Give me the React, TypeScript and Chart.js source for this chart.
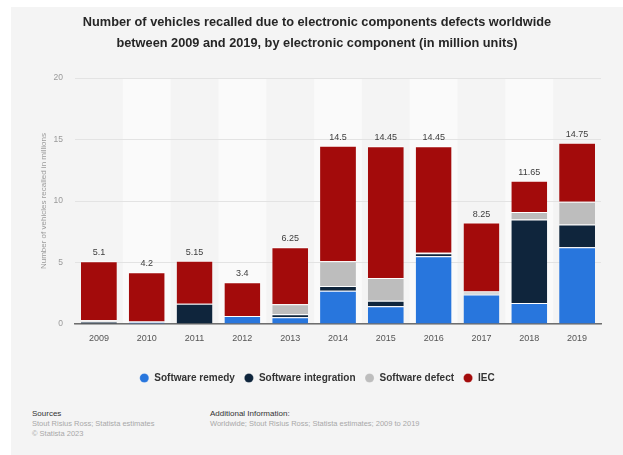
import React, { useEffect, useRef } from 'react';
import { Chart, registerables } from 'chart.js';

Chart.register(...registerables);

const years = ['2009', '2010', '2011', '2012', '2013', '2014', '2015', '2016', '2017', '2018', '2019'];
const softwareRemedy = [0, 0.15, 0, 0.65, 0.55, 2.7, 1.45, 5.5, 2.4, 1.7, 6.25];
const softwareIntegration = [0.2, 0, 1.65, 0, 0.25, 0.4, 0.45, 0.25, 0.05, 6.8, 1.85];
const softwareDefect = [0.1, 0.05, 0, 0, 0.8, 2.0, 1.85, 0.05, 0.2, 0.6, 1.85];
const iec = [4.8, 4.0, 3.5, 2.75, 4.65, 9.4, 10.7, 8.65, 5.6, 2.55, 4.8];
const totals = [5.1, 4.2, 5.15, 3.4, 6.25, 14.5, 14.45, 14.45, 8.25, 11.65, 14.75];
const yTicks = [0, 5, 10, 15, 20];

const FONT = '"Liberation Sans", Arial, Helvetica, sans-serif';

const bandsPlugin = {
  id: 'bands',
  beforeDraw(chart: any) {
    const { ctx, chartArea } = chart;
    const xs = chart.scales.x;
    const n = years.length;
    const w = chartArea.width / n;
    ctx.save();
    ctx.fillStyle = '#fafafa';
    for (let i = 1; i < n; i += 2) {
      const cx = xs.getPixelForValue(i);
      ctx.fillRect(cx - w / 2, chartArea.top, w, chartArea.bottom - chartArea.top);
    }
    ctx.restore();
  },
};

const totalsPlugin = {
  id: 'totals',
  afterDatasetsDraw(chart: any) {
    const { ctx } = chart;
    const meta = chart.getDatasetMeta(chart.data.datasets.length - 1);
    ctx.save();
    ctx.font = `9px ${FONT}`;
    ctx.fillStyle = '#3d3d3d';
    ctx.textAlign = 'center';
    ctx.textBaseline = 'middle';
    totals.forEach((t, i) => {
      const el = meta.data[i];
      ctx.fillText(String(t), el.x, el.y - 8.5);
    });
    ctx.restore();
  },
};

export default function App() {
  const ref = useRef<HTMLCanvasElement>(null);

  useEffect(() => {
    Chart.defaults.font.family = FONT;
    const border = { top: 1, left: 0, right: 0, bottom: 0 };
    const chart = new Chart(ref.current as HTMLCanvasElement, {
      type: 'bar',
      data: {
        labels: years,
        datasets: [
          { label: 'Software remedy', data: softwareRemedy, backgroundColor: '#2876dd', borderColor: '#ffffff', borderWidth: border },
          { label: 'Software integration', data: softwareIntegration, backgroundColor: '#0f253c', borderColor: '#ffffff', borderWidth: border },
          { label: 'Software defect', data: softwareDefect, backgroundColor: '#bdbdbd', borderColor: '#ffffff', borderWidth: border },
          { label: 'IEC', data: iec, backgroundColor: '#a30b0b', borderColor: '#ffffff', borderWidth: border },
        ],
      },
      options: {
        responsive: false,
        animation: false,
        devicePixelRatio: 1,
        layout: { padding: { left: 33, right: 22, top: 0, bottom: 2 } },
        datasets: { bar: { barPercentage: 0.75, categoryPercentage: 1 } },
        scales: {
          x: {
            stacked: true,
            grid: { display: false },
            border: { display: true, color: '#6e6e6e', width: 1.5 },
            ticks: { color: '#555555', font: { size: 9 }, padding: 1 },
            afterFit: (s: any) => { s.height = 40; },
          },
          y: {
            stacked: true,
            min: 0,
            max: 20,
            afterBuildTicks: (s: any) => { s.ticks = yTicks.map((v) => ({ value: v })); },
            grid: { color: '#e3e3e3', drawTicks: false },
            border: { display: false },
            ticks: { color: '#9a9a9a', font: { size: 8.5 }, padding: 12 },
            title: {
              display: true,
              text: 'Number of vehicles recalled in millions',
              color: '#9a9a9a',
              font: { size: 8 },
              padding: { top: 6, bottom: 0 },
            },
            afterFit: (s: any) => { s.width = 42; },
          },
        },
        plugins: {
          tooltip: { enabled: false },
          title: {
            display: true,
            text: [
              'Number of vehicles recalled due to electronic components defects worldwide',
              'between 2009 and 2019, by electronic component (in million units)',
            ],
            color: '#262626',
            font: { size: 12.75, weight: 'bold', lineHeight: 1.65 },
            padding: { top: 12, bottom: 24 },
          },
          legend: {
            position: 'bottom',
            labels: {
              usePointStyle: true,
              pointStyle: 'circle',
              boxWidth: 10,
              boxHeight: 6.5,
              padding: 9,
              color: '#333333',
              font: { size: 10, weight: 'bold' },
            },
          },
        },
      },
      plugins: [bandsPlugin, totalsPlugin],
    } as any);
    return () => chart.destroy();
  }, []);

  const small: React.CSSProperties = { fontFamily: FONT, fontSize: '7.5px', lineHeight: '10px', color: '#a8a8a8', whiteSpace: 'nowrap' };
  const head: React.CSSProperties = { fontFamily: FONT, fontSize: '8px', lineHeight: '10px', color: '#333333', whiteSpace: 'nowrap' };

  return (
    <div style={{ position: 'absolute', left: 0, top: 0, width: 623, height: 455, background: '#ffffff', overflow: 'hidden' }}>
      <div style={{ position: 'absolute', left: 11, top: 7, width: 612, height: 448, background: '#f4f4f4' }} />
      <canvas ref={ref} width={623} height={395} style={{ position: 'absolute', left: 0, top: 0, width: 623, height: 395 }} />
      <div style={{ position: 'absolute', left: 32, top: 409 }}>
        <div style={head}>Sources</div>
        <div style={small}>Stout Risius Ross; Statista estimates</div>
        <div style={small}>© Statista 2023</div>
      </div>
      <div style={{ position: 'absolute', left: 210, top: 409 }}>
        <div style={head}>Additional Information:</div>
        <div style={small}>Worldwide; Stout Risius Ross; Statista estimates; 2009 to 2019</div>
      </div>
    </div>
  );
}
